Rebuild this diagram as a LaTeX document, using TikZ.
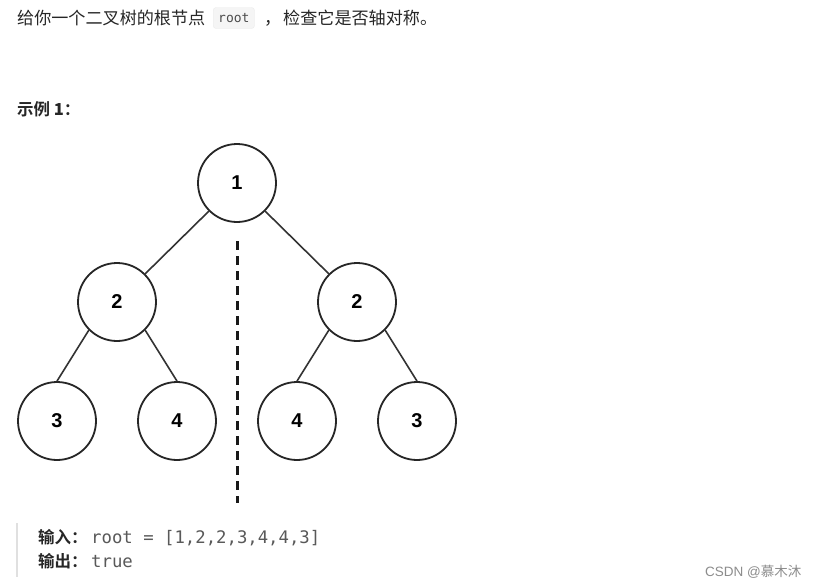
\documentclass[tikz,border=0pt]{standalone}
\usepackage{fontspec}
\setmainfont{Liberation Sans}
\setmonofont{DejaVu Sans Mono}
\newfontfamily\cjk{Noto Sans CJK SC}
\newfontfamily\cjkb{Noto Sans CJK SC Bold}
\begin{document}
\begin{tikzpicture}[x=1pt,y=-1pt,
  tnode/.style={circle,draw=black!85,line width=1.8pt,minimum size=78pt,inner sep=0pt,
    font=\fontsize{20}{24}\selectfont\bfseries},
  edge/.style={draw=black!80,line width=1.6pt},
  txt/.style={anchor=base west,inner sep=0pt,text=black!85}]
\useasboundingbox[fill=white] (0,0) rectangle (820,587);
% top text
\node[txt,font=\fontsize{17.1}{20}\cjk] (t1) at (17,24) {给你一个二叉树的根节点};
\node[draw=black!8,fill=black!4,rounded corners=3pt,inner xsep=5pt,anchor=west,
  minimum height=21pt,font=\fontsize{13}{16}\ttfamily,text=black!70] (code) at (213,18) {root};
\node[txt,font=\fontsize{17.1}{20}\cjk] (t2) at (264,24) {，};
\node[txt,font=\fontsize{17.1}{20}\cjk] (t3) at (283,24) {检查它是否轴对称。};
% example label
\node[txt,font=\fontsize{16.5}{19}\cjkb] (ex) at (17,115) {示例 {\bfseries 1}：};
% tree
\node[tnode] (r) at (237,183) {1};
\node[tnode] (a) at (117,302) {2};
\node[tnode] (b) at (357,302) {2};
\node[tnode] (c) at (57,421) {3};
\node[tnode] (d) at (177,421) {4};
\node[tnode] (e) at (297,421) {4};
\node[tnode] (f) at (417,421) {3};
\path[edge] (r.south west) -- (a.north east);
\path[edge] (r.south east) -- (b.north west);
\path[edge] (a.south west) -- (c.north);
\path[edge] (a.south east) -- (d.north);
\path[edge] (b.south west) -- (e.north);
\path[edge] (b.south east) -- (f.north);
\coordinate (m1) at (237,241);
\coordinate (m2) at (237,503);
\draw[line width=3pt,dash pattern=on 9pt off 6pt,black!90] (m1) -- (m2);
% bottom block
\coordinate (q1) at (17,523);
\coordinate (q2) at (17,577);
\draw[line width=2.5pt,black!12] (q1) -- (q2);
\node[txt,font=\fontsize{16.5}{20}\cjkb] (in) at (38,543) {输入：};
\node[txt,font=\fontsize{17.3}{20}\ttfamily,text=black!65] (inv) at (91,543) {root = [1,2,2,3,4,4,3]};
\node[txt,font=\fontsize{16.5}{20}\cjkb] (out) at (38,567) {输出：};
\node[txt,font=\fontsize{17.3}{20}\ttfamily,text=black!65] (outv) at (91,567) {true};
% watermark
\node[txt,font=\fontsize{13.5}{16}\selectfont,text=black!45] (wm) at (705,576) {CSDN @{\cjk 慕木沐}};
\end{tikzpicture}
\end{document}
